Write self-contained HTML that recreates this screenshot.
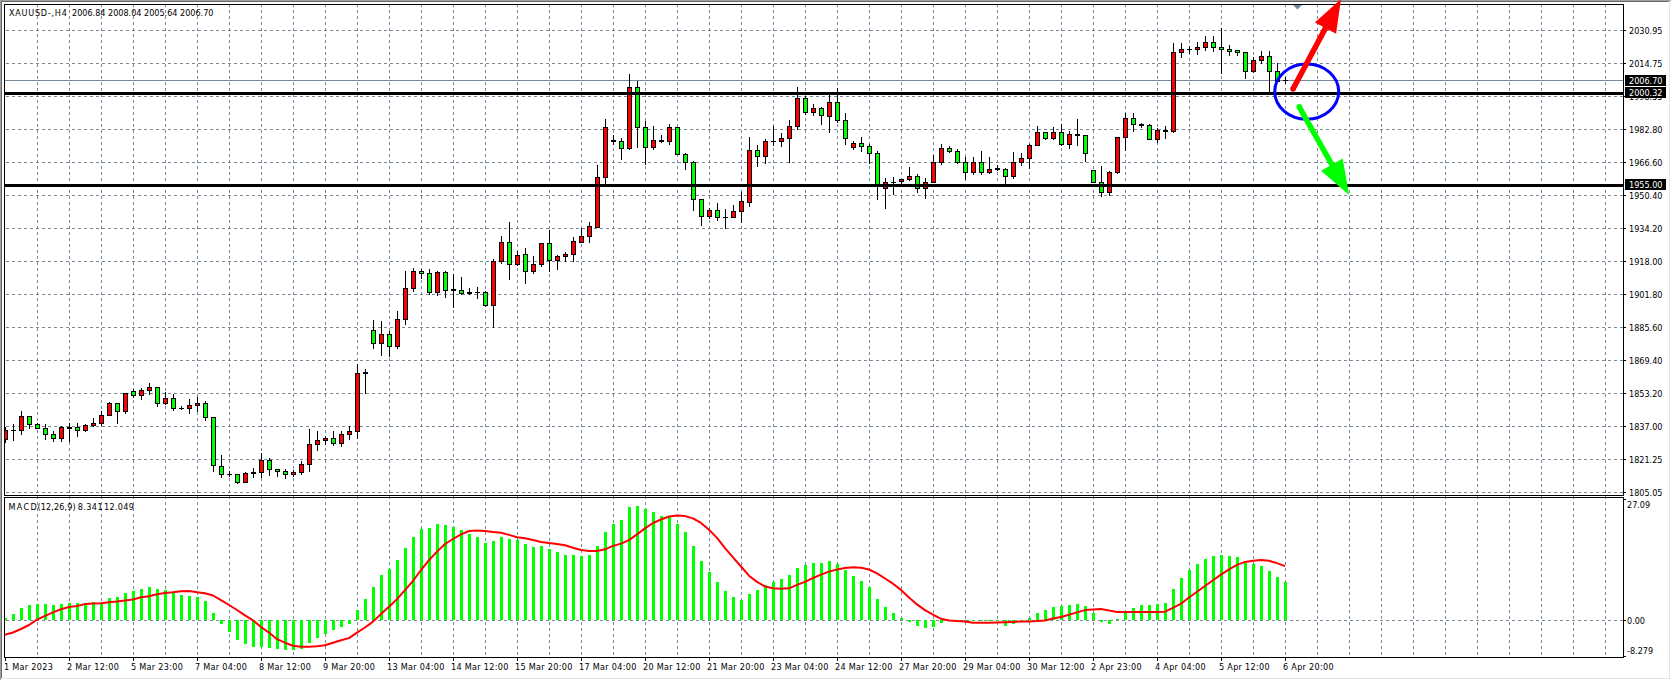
<!DOCTYPE html>
<html><head><meta charset="utf-8"><title>XAUUSD H4</title><style>
html,body{margin:0;padding:0;background:#fff;}
body{width:1671px;height:680px;overflow:hidden;}
svg{display:block;}
text{font-family:"DejaVu Sans Condensed", "DejaVu Sans", "Liberation Sans", sans-serif;font-size:9.0px;fill:#000;}
text.w{fill:#fff;}
</style></head><body>
<svg width="1671" height="680" viewBox="0 0 1671 680" shape-rendering="crispEdges">
<rect x="0" y="0" width="1671" height="1" fill="#a0a0a0"/>
<rect x="0" y="0" width="1" height="680" fill="#a0a0a0"/>
<rect x="1" y="1" width="1669" height="1" fill="#696969"/>
<rect x="1" y="1" width="1" height="678" fill="#696969"/>
<rect x="1" y="678" width="1669" height="1" fill="#e3e3e3"/>
<rect x="1669" y="1" width="1" height="678" fill="#e3e3e3"/>
<defs><clipPath id="cm"><rect x="5" y="5" width="1618" height="490"/></clipPath><clipPath id="cs"><rect x="5" y="498" width="1618" height="159"/></clipPath></defs>
<g clip-path="url(#cm)" stroke="#778899" stroke-width="1" stroke-dasharray="3 3" fill="none">
<line x1="0" y1="30.5" x2="1623" y2="30.5"/>
<line x1="0" y1="63.5" x2="1623" y2="63.5"/>
<line x1="0" y1="96.5" x2="1623" y2="96.5"/>
<line x1="0" y1="129.5" x2="1623" y2="129.5"/>
<line x1="0" y1="162.5" x2="1623" y2="162.5"/>
<line x1="0" y1="195.5" x2="1623" y2="195.5"/>
<line x1="0" y1="228.5" x2="1623" y2="228.5"/>
<line x1="0" y1="261.5" x2="1623" y2="261.5"/>
<line x1="0" y1="294.5" x2="1623" y2="294.5"/>
<line x1="0" y1="327.5" x2="1623" y2="327.5"/>
<line x1="0" y1="360.5" x2="1623" y2="360.5"/>
<line x1="0" y1="393.5" x2="1623" y2="393.5"/>
<line x1="0" y1="426.5" x2="1623" y2="426.5"/>
<line x1="0" y1="459.5" x2="1623" y2="459.5"/>
<line x1="0" y1="492.5" x2="1623" y2="492.5"/>
<line x1="37.5" y1="4" x2="37.5" y2="657"/>
<line x1="69.5" y1="4" x2="69.5" y2="657"/>
<line x1="101.5" y1="4" x2="101.5" y2="657"/>
<line x1="133.5" y1="4" x2="133.5" y2="657"/>
<line x1="165.5" y1="4" x2="165.5" y2="657"/>
<line x1="197.5" y1="4" x2="197.5" y2="657"/>
<line x1="229.5" y1="4" x2="229.5" y2="657"/>
<line x1="261.5" y1="4" x2="261.5" y2="657"/>
<line x1="293.5" y1="4" x2="293.5" y2="657"/>
<line x1="325.5" y1="4" x2="325.5" y2="657"/>
<line x1="357.5" y1="4" x2="357.5" y2="657"/>
<line x1="389.5" y1="4" x2="389.5" y2="657"/>
<line x1="421.5" y1="4" x2="421.5" y2="657"/>
<line x1="453.5" y1="4" x2="453.5" y2="657"/>
<line x1="485.5" y1="4" x2="485.5" y2="657"/>
<line x1="517.5" y1="4" x2="517.5" y2="657"/>
<line x1="549.5" y1="4" x2="549.5" y2="657"/>
<line x1="581.5" y1="4" x2="581.5" y2="657"/>
<line x1="613.5" y1="4" x2="613.5" y2="657"/>
<line x1="645.5" y1="4" x2="645.5" y2="657"/>
<line x1="677.5" y1="4" x2="677.5" y2="657"/>
<line x1="709.5" y1="4" x2="709.5" y2="657"/>
<line x1="741.5" y1="4" x2="741.5" y2="657"/>
<line x1="773.5" y1="4" x2="773.5" y2="657"/>
<line x1="805.5" y1="4" x2="805.5" y2="657"/>
<line x1="837.5" y1="4" x2="837.5" y2="657"/>
<line x1="869.5" y1="4" x2="869.5" y2="657"/>
<line x1="901.5" y1="4" x2="901.5" y2="657"/>
<line x1="933.5" y1="4" x2="933.5" y2="657"/>
<line x1="965.5" y1="4" x2="965.5" y2="657"/>
<line x1="997.5" y1="4" x2="997.5" y2="657"/>
<line x1="1029.5" y1="4" x2="1029.5" y2="657"/>
<line x1="1061.5" y1="4" x2="1061.5" y2="657"/>
<line x1="1093.5" y1="4" x2="1093.5" y2="657"/>
<line x1="1125.5" y1="4" x2="1125.5" y2="657"/>
<line x1="1157.5" y1="4" x2="1157.5" y2="657"/>
<line x1="1189.5" y1="4" x2="1189.5" y2="657"/>
<line x1="1221.5" y1="4" x2="1221.5" y2="657"/>
<line x1="1253.5" y1="4" x2="1253.5" y2="657"/>
<line x1="1285.5" y1="4" x2="1285.5" y2="657"/>
<line x1="1317.5" y1="4" x2="1317.5" y2="657"/>
<line x1="1349.5" y1="4" x2="1349.5" y2="657"/>
<line x1="1381.5" y1="4" x2="1381.5" y2="657"/>
<line x1="1413.5" y1="4" x2="1413.5" y2="657"/>
<line x1="1445.5" y1="4" x2="1445.5" y2="657"/>
<line x1="1477.5" y1="4" x2="1477.5" y2="657"/>
<line x1="1509.5" y1="4" x2="1509.5" y2="657"/>
<line x1="1541.5" y1="4" x2="1541.5" y2="657"/>
<line x1="1573.5" y1="4" x2="1573.5" y2="657"/>
<line x1="1605.5" y1="4" x2="1605.5" y2="657"/>
</g>
<g clip-path="url(#cs)" stroke="#778899" stroke-width="1" stroke-dasharray="3 3" fill="none">
<line x1="0" y1="620.5" x2="1623" y2="620.5"/>
<line x1="37.5" y1="4" x2="37.5" y2="657"/>
<line x1="69.5" y1="4" x2="69.5" y2="657"/>
<line x1="101.5" y1="4" x2="101.5" y2="657"/>
<line x1="133.5" y1="4" x2="133.5" y2="657"/>
<line x1="165.5" y1="4" x2="165.5" y2="657"/>
<line x1="197.5" y1="4" x2="197.5" y2="657"/>
<line x1="229.5" y1="4" x2="229.5" y2="657"/>
<line x1="261.5" y1="4" x2="261.5" y2="657"/>
<line x1="293.5" y1="4" x2="293.5" y2="657"/>
<line x1="325.5" y1="4" x2="325.5" y2="657"/>
<line x1="357.5" y1="4" x2="357.5" y2="657"/>
<line x1="389.5" y1="4" x2="389.5" y2="657"/>
<line x1="421.5" y1="4" x2="421.5" y2="657"/>
<line x1="453.5" y1="4" x2="453.5" y2="657"/>
<line x1="485.5" y1="4" x2="485.5" y2="657"/>
<line x1="517.5" y1="4" x2="517.5" y2="657"/>
<line x1="549.5" y1="4" x2="549.5" y2="657"/>
<line x1="581.5" y1="4" x2="581.5" y2="657"/>
<line x1="613.5" y1="4" x2="613.5" y2="657"/>
<line x1="645.5" y1="4" x2="645.5" y2="657"/>
<line x1="677.5" y1="4" x2="677.5" y2="657"/>
<line x1="709.5" y1="4" x2="709.5" y2="657"/>
<line x1="741.5" y1="4" x2="741.5" y2="657"/>
<line x1="773.5" y1="4" x2="773.5" y2="657"/>
<line x1="805.5" y1="4" x2="805.5" y2="657"/>
<line x1="837.5" y1="4" x2="837.5" y2="657"/>
<line x1="869.5" y1="4" x2="869.5" y2="657"/>
<line x1="901.5" y1="4" x2="901.5" y2="657"/>
<line x1="933.5" y1="4" x2="933.5" y2="657"/>
<line x1="965.5" y1="4" x2="965.5" y2="657"/>
<line x1="997.5" y1="4" x2="997.5" y2="657"/>
<line x1="1029.5" y1="4" x2="1029.5" y2="657"/>
<line x1="1061.5" y1="4" x2="1061.5" y2="657"/>
<line x1="1093.5" y1="4" x2="1093.5" y2="657"/>
<line x1="1125.5" y1="4" x2="1125.5" y2="657"/>
<line x1="1157.5" y1="4" x2="1157.5" y2="657"/>
<line x1="1189.5" y1="4" x2="1189.5" y2="657"/>
<line x1="1221.5" y1="4" x2="1221.5" y2="657"/>
<line x1="1253.5" y1="4" x2="1253.5" y2="657"/>
<line x1="1285.5" y1="4" x2="1285.5" y2="657"/>
<line x1="1317.5" y1="4" x2="1317.5" y2="657"/>
<line x1="1349.5" y1="4" x2="1349.5" y2="657"/>
<line x1="1381.5" y1="4" x2="1381.5" y2="657"/>
<line x1="1413.5" y1="4" x2="1413.5" y2="657"/>
<line x1="1445.5" y1="4" x2="1445.5" y2="657"/>
<line x1="1477.5" y1="4" x2="1477.5" y2="657"/>
<line x1="1509.5" y1="4" x2="1509.5" y2="657"/>
<line x1="1541.5" y1="4" x2="1541.5" y2="657"/>
<line x1="1573.5" y1="4" x2="1573.5" y2="657"/>
<line x1="1605.5" y1="4" x2="1605.5" y2="657"/>
</g>
<rect x="37" y="496" width="1" height="1" fill="#778899"/>
<rect x="69" y="496" width="1" height="1" fill="#778899"/>
<rect x="101" y="496" width="1" height="1" fill="#778899"/>
<rect x="133" y="496" width="1" height="1" fill="#778899"/>
<rect x="165" y="496" width="1" height="1" fill="#778899"/>
<rect x="197" y="496" width="1" height="1" fill="#778899"/>
<rect x="229" y="496" width="1" height="1" fill="#778899"/>
<rect x="261" y="496" width="1" height="1" fill="#778899"/>
<rect x="293" y="496" width="1" height="1" fill="#778899"/>
<rect x="325" y="496" width="1" height="1" fill="#778899"/>
<rect x="357" y="496" width="1" height="1" fill="#778899"/>
<rect x="389" y="496" width="1" height="1" fill="#778899"/>
<rect x="421" y="496" width="1" height="1" fill="#778899"/>
<rect x="453" y="496" width="1" height="1" fill="#778899"/>
<rect x="485" y="496" width="1" height="1" fill="#778899"/>
<rect x="517" y="496" width="1" height="1" fill="#778899"/>
<rect x="549" y="496" width="1" height="1" fill="#778899"/>
<rect x="581" y="496" width="1" height="1" fill="#778899"/>
<rect x="613" y="496" width="1" height="1" fill="#778899"/>
<rect x="645" y="496" width="1" height="1" fill="#778899"/>
<rect x="677" y="496" width="1" height="1" fill="#778899"/>
<rect x="709" y="496" width="1" height="1" fill="#778899"/>
<rect x="741" y="496" width="1" height="1" fill="#778899"/>
<rect x="773" y="496" width="1" height="1" fill="#778899"/>
<rect x="805" y="496" width="1" height="1" fill="#778899"/>
<rect x="837" y="496" width="1" height="1" fill="#778899"/>
<rect x="869" y="496" width="1" height="1" fill="#778899"/>
<rect x="901" y="496" width="1" height="1" fill="#778899"/>
<rect x="933" y="496" width="1" height="1" fill="#778899"/>
<rect x="965" y="496" width="1" height="1" fill="#778899"/>
<rect x="997" y="496" width="1" height="1" fill="#778899"/>
<rect x="1029" y="496" width="1" height="1" fill="#778899"/>
<rect x="1061" y="496" width="1" height="1" fill="#778899"/>
<rect x="1093" y="496" width="1" height="1" fill="#778899"/>
<rect x="1125" y="496" width="1" height="1" fill="#778899"/>
<rect x="1157" y="496" width="1" height="1" fill="#778899"/>
<rect x="1189" y="496" width="1" height="1" fill="#778899"/>
<rect x="1221" y="496" width="1" height="1" fill="#778899"/>
<rect x="1253" y="496" width="1" height="1" fill="#778899"/>
<rect x="1285" y="496" width="1" height="1" fill="#778899"/>
<rect x="1317" y="496" width="1" height="1" fill="#778899"/>
<rect x="1349" y="496" width="1" height="1" fill="#778899"/>
<rect x="1381" y="496" width="1" height="1" fill="#778899"/>
<rect x="1413" y="496" width="1" height="1" fill="#778899"/>
<rect x="1445" y="496" width="1" height="1" fill="#778899"/>
<rect x="1477" y="496" width="1" height="1" fill="#778899"/>
<rect x="1509" y="496" width="1" height="1" fill="#778899"/>
<rect x="1541" y="496" width="1" height="1" fill="#778899"/>
<rect x="1573" y="496" width="1" height="1" fill="#778899"/>
<rect x="1605" y="496" width="1" height="1" fill="#778899"/>
<rect x="5" y="80" width="1618" height="1" fill="#778899"/>
<g clip-path="url(#cm)">
<rect x="5" y="427" width="1" height="16" fill="#000"/>
<rect x="3" y="430" width="5" height="10" fill="#000"/>
<rect x="4" y="431" width="3" height="8" fill="#ff0000"/>
<rect x="13" y="424" width="1" height="17" fill="#000"/>
<rect x="11" y="430" width="5" height="1" fill="#000"/>
<rect x="21" y="411" width="1" height="24" fill="#000"/>
<rect x="19" y="416" width="5" height="15" fill="#000"/>
<rect x="20" y="417" width="3" height="13" fill="#ff0000"/>
<rect x="29" y="416" width="1" height="13" fill="#000"/>
<rect x="27" y="416" width="5" height="9" fill="#000"/>
<rect x="28" y="417" width="3" height="7" fill="#00ff00"/>
<rect x="37" y="423" width="1" height="6" fill="#000"/>
<rect x="35" y="424" width="5" height="5" fill="#000"/>
<rect x="36" y="425" width="3" height="3" fill="#00ff00"/>
<rect x="45" y="424" width="1" height="16" fill="#000"/>
<rect x="43" y="428" width="5" height="7" fill="#000"/>
<rect x="44" y="429" width="3" height="5" fill="#00ff00"/>
<rect x="53" y="431" width="1" height="11" fill="#000"/>
<rect x="51" y="434" width="5" height="5" fill="#000"/>
<rect x="52" y="435" width="3" height="3" fill="#00ff00"/>
<rect x="61" y="426" width="1" height="16" fill="#000"/>
<rect x="59" y="427" width="5" height="12" fill="#000"/>
<rect x="60" y="428" width="3" height="10" fill="#ff0000"/>
<rect x="69" y="423" width="1" height="19" fill="#000"/>
<rect x="67" y="427" width="5" height="2" fill="#000"/>
<rect x="77" y="423" width="1" height="14" fill="#000"/>
<rect x="75" y="427" width="5" height="4" fill="#000"/>
<rect x="76" y="428" width="3" height="2" fill="#00ff00"/>
<rect x="85" y="424" width="1" height="8" fill="#000"/>
<rect x="83" y="425" width="5" height="6" fill="#000"/>
<rect x="84" y="426" width="3" height="4" fill="#ff0000"/>
<rect x="93" y="418" width="1" height="9" fill="#000"/>
<rect x="91" y="423" width="5" height="3" fill="#000"/>
<rect x="92" y="424" width="3" height="1" fill="#ff0000"/>
<rect x="101" y="411" width="1" height="15" fill="#000"/>
<rect x="99" y="415" width="5" height="9" fill="#000"/>
<rect x="100" y="416" width="3" height="7" fill="#ff0000"/>
<rect x="109" y="402" width="1" height="14" fill="#000"/>
<rect x="107" y="403" width="5" height="13" fill="#000"/>
<rect x="108" y="404" width="3" height="11" fill="#ff0000"/>
<rect x="117" y="403" width="1" height="21" fill="#000"/>
<rect x="115" y="403" width="5" height="9" fill="#000"/>
<rect x="116" y="404" width="3" height="7" fill="#00ff00"/>
<rect x="125" y="393" width="1" height="21" fill="#000"/>
<rect x="123" y="393" width="5" height="19" fill="#000"/>
<rect x="124" y="394" width="3" height="17" fill="#ff0000"/>
<rect x="133" y="389" width="1" height="9" fill="#000"/>
<rect x="131" y="391" width="5" height="5" fill="#000"/>
<rect x="132" y="392" width="3" height="3" fill="#00ff00"/>
<rect x="141" y="388" width="1" height="12" fill="#000"/>
<rect x="139" y="390" width="5" height="6" fill="#000"/>
<rect x="140" y="391" width="3" height="4" fill="#ff0000"/>
<rect x="149" y="383" width="1" height="12" fill="#000"/>
<rect x="147" y="387" width="5" height="4" fill="#000"/>
<rect x="148" y="388" width="3" height="2" fill="#ff0000"/>
<rect x="157" y="387" width="1" height="20" fill="#000"/>
<rect x="155" y="387" width="5" height="17" fill="#000"/>
<rect x="156" y="388" width="3" height="15" fill="#00ff00"/>
<rect x="165" y="392" width="1" height="13" fill="#000"/>
<rect x="163" y="398" width="5" height="6" fill="#000"/>
<rect x="164" y="399" width="3" height="4" fill="#ff0000"/>
<rect x="173" y="394" width="1" height="17" fill="#000"/>
<rect x="171" y="398" width="5" height="11" fill="#000"/>
<rect x="172" y="399" width="3" height="9" fill="#00ff00"/>
<rect x="181" y="406" width="1" height="4" fill="#000"/>
<rect x="179" y="408" width="5" height="1" fill="#000"/>
<rect x="189" y="399" width="1" height="15" fill="#000"/>
<rect x="187" y="405" width="5" height="4" fill="#000"/>
<rect x="188" y="406" width="3" height="2" fill="#ff0000"/>
<rect x="197" y="397" width="1" height="15" fill="#000"/>
<rect x="195" y="403" width="5" height="3" fill="#000"/>
<rect x="196" y="404" width="3" height="1" fill="#ff0000"/>
<rect x="205" y="401" width="1" height="20" fill="#000"/>
<rect x="203" y="403" width="5" height="15" fill="#000"/>
<rect x="204" y="404" width="3" height="13" fill="#00ff00"/>
<rect x="213" y="417" width="1" height="55" fill="#000"/>
<rect x="211" y="417" width="5" height="49" fill="#000"/>
<rect x="212" y="418" width="3" height="47" fill="#00ff00"/>
<rect x="221" y="455" width="1" height="23" fill="#000"/>
<rect x="219" y="466" width="5" height="9" fill="#000"/>
<rect x="220" y="467" width="3" height="7" fill="#00ff00"/>
<rect x="229" y="471" width="1" height="6" fill="#000"/>
<rect x="227" y="474" width="5" height="1" fill="#000"/>
<rect x="237" y="474" width="1" height="10" fill="#000"/>
<rect x="235" y="474" width="5" height="9" fill="#000"/>
<rect x="236" y="475" width="3" height="7" fill="#00ff00"/>
<rect x="245" y="472" width="1" height="11" fill="#000"/>
<rect x="243" y="473" width="5" height="10" fill="#000"/>
<rect x="244" y="474" width="3" height="8" fill="#ff0000"/>
<rect x="253" y="468" width="1" height="10" fill="#000"/>
<rect x="251" y="472" width="5" height="2" fill="#000"/>
<rect x="261" y="453" width="1" height="25" fill="#000"/>
<rect x="259" y="460" width="5" height="13" fill="#000"/>
<rect x="260" y="461" width="3" height="11" fill="#ff0000"/>
<rect x="269" y="458" width="1" height="18" fill="#000"/>
<rect x="267" y="460" width="5" height="10" fill="#000"/>
<rect x="268" y="461" width="3" height="8" fill="#00ff00"/>
<rect x="277" y="469" width="1" height="8" fill="#000"/>
<rect x="275" y="469" width="5" height="3" fill="#000"/>
<rect x="276" y="470" width="3" height="1" fill="#00ff00"/>
<rect x="285" y="469" width="1" height="10" fill="#000"/>
<rect x="283" y="471" width="5" height="4" fill="#000"/>
<rect x="284" y="472" width="3" height="2" fill="#00ff00"/>
<rect x="293" y="470" width="1" height="7" fill="#000"/>
<rect x="291" y="472" width="5" height="3" fill="#000"/>
<rect x="292" y="473" width="3" height="1" fill="#ff0000"/>
<rect x="301" y="461" width="1" height="14" fill="#000"/>
<rect x="299" y="464" width="5" height="9" fill="#000"/>
<rect x="300" y="465" width="3" height="7" fill="#ff0000"/>
<rect x="309" y="429" width="1" height="43" fill="#000"/>
<rect x="307" y="444" width="5" height="21" fill="#000"/>
<rect x="308" y="445" width="3" height="19" fill="#ff0000"/>
<rect x="317" y="431" width="1" height="20" fill="#000"/>
<rect x="315" y="440" width="5" height="5" fill="#000"/>
<rect x="316" y="441" width="3" height="3" fill="#ff0000"/>
<rect x="325" y="436" width="1" height="9" fill="#000"/>
<rect x="323" y="438" width="5" height="3" fill="#000"/>
<rect x="324" y="439" width="3" height="1" fill="#ff0000"/>
<rect x="333" y="431" width="1" height="15" fill="#000"/>
<rect x="331" y="438" width="5" height="6" fill="#000"/>
<rect x="332" y="439" width="3" height="4" fill="#00ff00"/>
<rect x="341" y="431" width="1" height="16" fill="#000"/>
<rect x="339" y="434" width="5" height="10" fill="#000"/>
<rect x="340" y="435" width="3" height="8" fill="#ff0000"/>
<rect x="349" y="426" width="1" height="14" fill="#000"/>
<rect x="347" y="431" width="5" height="4" fill="#000"/>
<rect x="348" y="432" width="3" height="2" fill="#ff0000"/>
<rect x="357" y="364" width="1" height="75" fill="#000"/>
<rect x="355" y="373" width="5" height="59" fill="#000"/>
<rect x="356" y="374" width="3" height="57" fill="#ff0000"/>
<rect x="365" y="369" width="1" height="25" fill="#000"/>
<rect x="363" y="372" width="5" height="2" fill="#000"/>
<rect x="373" y="320" width="1" height="29" fill="#000"/>
<rect x="371" y="330" width="5" height="14" fill="#000"/>
<rect x="372" y="331" width="3" height="12" fill="#00ff00"/>
<rect x="381" y="321" width="1" height="35" fill="#000"/>
<rect x="379" y="334" width="5" height="10" fill="#000"/>
<rect x="380" y="335" width="3" height="8" fill="#ff0000"/>
<rect x="389" y="331" width="1" height="26" fill="#000"/>
<rect x="387" y="334" width="5" height="13" fill="#000"/>
<rect x="388" y="335" width="3" height="11" fill="#00ff00"/>
<rect x="397" y="311" width="1" height="38" fill="#000"/>
<rect x="395" y="319" width="5" height="28" fill="#000"/>
<rect x="396" y="320" width="3" height="26" fill="#ff0000"/>
<rect x="405" y="271" width="1" height="54" fill="#000"/>
<rect x="403" y="288" width="5" height="32" fill="#000"/>
<rect x="404" y="289" width="3" height="30" fill="#ff0000"/>
<rect x="413" y="268" width="1" height="24" fill="#000"/>
<rect x="411" y="271" width="5" height="18" fill="#000"/>
<rect x="412" y="272" width="3" height="16" fill="#ff0000"/>
<rect x="421" y="269" width="1" height="10" fill="#000"/>
<rect x="419" y="271" width="5" height="3" fill="#000"/>
<rect x="420" y="272" width="3" height="1" fill="#00ff00"/>
<rect x="429" y="269" width="1" height="26" fill="#000"/>
<rect x="427" y="273" width="5" height="20" fill="#000"/>
<rect x="428" y="274" width="3" height="18" fill="#00ff00"/>
<rect x="437" y="271" width="1" height="25" fill="#000"/>
<rect x="435" y="272" width="5" height="21" fill="#000"/>
<rect x="436" y="273" width="3" height="19" fill="#ff0000"/>
<rect x="445" y="271" width="1" height="27" fill="#000"/>
<rect x="443" y="272" width="5" height="19" fill="#000"/>
<rect x="444" y="273" width="3" height="17" fill="#00ff00"/>
<rect x="453" y="274" width="1" height="34" fill="#000"/>
<rect x="451" y="289" width="5" height="2" fill="#000"/>
<rect x="461" y="277" width="1" height="18" fill="#000"/>
<rect x="459" y="290" width="5" height="4" fill="#000"/>
<rect x="460" y="291" width="3" height="2" fill="#00ff00"/>
<rect x="469" y="288" width="1" height="7" fill="#000"/>
<rect x="467" y="292" width="5" height="2" fill="#000"/>
<rect x="477" y="287" width="1" height="12" fill="#000"/>
<rect x="475" y="292" width="5" height="1" fill="#000"/>
<rect x="485" y="291" width="1" height="16" fill="#000"/>
<rect x="483" y="292" width="5" height="14" fill="#000"/>
<rect x="484" y="293" width="3" height="12" fill="#00ff00"/>
<rect x="493" y="259" width="1" height="69" fill="#000"/>
<rect x="491" y="261" width="5" height="45" fill="#000"/>
<rect x="492" y="262" width="3" height="43" fill="#ff0000"/>
<rect x="501" y="236" width="1" height="28" fill="#000"/>
<rect x="499" y="242" width="5" height="20" fill="#000"/>
<rect x="500" y="243" width="3" height="18" fill="#ff0000"/>
<rect x="509" y="222" width="1" height="58" fill="#000"/>
<rect x="507" y="242" width="5" height="23" fill="#000"/>
<rect x="508" y="243" width="3" height="21" fill="#00ff00"/>
<rect x="517" y="251" width="1" height="15" fill="#000"/>
<rect x="515" y="255" width="5" height="10" fill="#000"/>
<rect x="516" y="256" width="3" height="8" fill="#ff0000"/>
<rect x="525" y="248" width="1" height="36" fill="#000"/>
<rect x="523" y="254" width="5" height="18" fill="#000"/>
<rect x="524" y="255" width="3" height="16" fill="#00ff00"/>
<rect x="533" y="256" width="1" height="18" fill="#000"/>
<rect x="531" y="264" width="5" height="8" fill="#000"/>
<rect x="532" y="265" width="3" height="6" fill="#ff0000"/>
<rect x="541" y="243" width="1" height="24" fill="#000"/>
<rect x="539" y="243" width="5" height="22" fill="#000"/>
<rect x="540" y="244" width="3" height="20" fill="#ff0000"/>
<rect x="549" y="230" width="1" height="42" fill="#000"/>
<rect x="547" y="243" width="5" height="18" fill="#000"/>
<rect x="548" y="244" width="3" height="16" fill="#00ff00"/>
<rect x="557" y="255" width="1" height="15" fill="#000"/>
<rect x="555" y="256" width="5" height="5" fill="#000"/>
<rect x="556" y="257" width="3" height="3" fill="#ff0000"/>
<rect x="565" y="252" width="1" height="10" fill="#000"/>
<rect x="563" y="254" width="5" height="3" fill="#000"/>
<rect x="564" y="255" width="3" height="1" fill="#ff0000"/>
<rect x="573" y="237" width="1" height="25" fill="#000"/>
<rect x="571" y="241" width="5" height="14" fill="#000"/>
<rect x="572" y="242" width="3" height="12" fill="#ff0000"/>
<rect x="581" y="228" width="1" height="15" fill="#000"/>
<rect x="579" y="236" width="5" height="7" fill="#000"/>
<rect x="580" y="237" width="3" height="5" fill="#ff0000"/>
<rect x="589" y="222" width="1" height="21" fill="#000"/>
<rect x="587" y="226" width="5" height="11" fill="#000"/>
<rect x="588" y="227" width="3" height="9" fill="#ff0000"/>
<rect x="597" y="165" width="1" height="63" fill="#000"/>
<rect x="595" y="177" width="5" height="51" fill="#000"/>
<rect x="596" y="178" width="3" height="49" fill="#ff0000"/>
<rect x="605" y="119" width="1" height="66" fill="#000"/>
<rect x="603" y="127" width="5" height="51" fill="#000"/>
<rect x="604" y="128" width="3" height="49" fill="#ff0000"/>
<rect x="613" y="135" width="1" height="10" fill="#000"/>
<rect x="611" y="140" width="5" height="2" fill="#000"/>
<rect x="621" y="138" width="1" height="22" fill="#000"/>
<rect x="619" y="141" width="5" height="8" fill="#000"/>
<rect x="620" y="142" width="3" height="6" fill="#00ff00"/>
<rect x="629" y="74" width="1" height="76" fill="#000"/>
<rect x="627" y="87" width="5" height="62" fill="#000"/>
<rect x="628" y="88" width="3" height="60" fill="#ff0000"/>
<rect x="637" y="81" width="1" height="67" fill="#000"/>
<rect x="635" y="87" width="5" height="41" fill="#000"/>
<rect x="636" y="88" width="3" height="39" fill="#00ff00"/>
<rect x="645" y="121" width="1" height="44" fill="#000"/>
<rect x="643" y="127" width="5" height="21" fill="#000"/>
<rect x="644" y="128" width="3" height="19" fill="#00ff00"/>
<rect x="653" y="126" width="1" height="24" fill="#000"/>
<rect x="651" y="140" width="5" height="8" fill="#000"/>
<rect x="652" y="141" width="3" height="6" fill="#ff0000"/>
<rect x="661" y="135" width="1" height="8" fill="#000"/>
<rect x="659" y="140" width="5" height="2" fill="#000"/>
<rect x="669" y="124" width="1" height="21" fill="#000"/>
<rect x="667" y="127" width="5" height="15" fill="#000"/>
<rect x="668" y="128" width="3" height="13" fill="#ff0000"/>
<rect x="677" y="127" width="1" height="28" fill="#000"/>
<rect x="675" y="127" width="5" height="28" fill="#000"/>
<rect x="676" y="128" width="3" height="26" fill="#00ff00"/>
<rect x="685" y="153" width="1" height="17" fill="#000"/>
<rect x="683" y="154" width="5" height="9" fill="#000"/>
<rect x="684" y="155" width="3" height="7" fill="#00ff00"/>
<rect x="693" y="161" width="1" height="50" fill="#000"/>
<rect x="691" y="162" width="5" height="38" fill="#000"/>
<rect x="692" y="163" width="3" height="36" fill="#00ff00"/>
<rect x="701" y="199" width="1" height="27" fill="#000"/>
<rect x="699" y="199" width="5" height="18" fill="#000"/>
<rect x="700" y="200" width="3" height="16" fill="#00ff00"/>
<rect x="709" y="208" width="1" height="11" fill="#000"/>
<rect x="707" y="210" width="5" height="7" fill="#000"/>
<rect x="708" y="211" width="3" height="5" fill="#ff0000"/>
<rect x="717" y="203" width="1" height="18" fill="#000"/>
<rect x="715" y="210" width="5" height="8" fill="#000"/>
<rect x="716" y="211" width="3" height="6" fill="#00ff00"/>
<rect x="725" y="209" width="1" height="20" fill="#000"/>
<rect x="723" y="217" width="5" height="1" fill="#000"/>
<rect x="733" y="205" width="1" height="13" fill="#000"/>
<rect x="731" y="211" width="5" height="7" fill="#000"/>
<rect x="732" y="212" width="3" height="5" fill="#ff0000"/>
<rect x="741" y="192" width="1" height="31" fill="#000"/>
<rect x="739" y="201" width="5" height="11" fill="#000"/>
<rect x="740" y="202" width="3" height="9" fill="#ff0000"/>
<rect x="749" y="137" width="1" height="70" fill="#000"/>
<rect x="747" y="150" width="5" height="53" fill="#000"/>
<rect x="748" y="151" width="3" height="51" fill="#ff0000"/>
<rect x="757" y="145" width="1" height="22" fill="#000"/>
<rect x="755" y="150" width="5" height="7" fill="#000"/>
<rect x="756" y="151" width="3" height="5" fill="#00ff00"/>
<rect x="765" y="139" width="1" height="25" fill="#000"/>
<rect x="763" y="141" width="5" height="16" fill="#000"/>
<rect x="764" y="142" width="3" height="14" fill="#ff0000"/>
<rect x="773" y="126" width="1" height="20" fill="#000"/>
<rect x="771" y="141" width="5" height="1" fill="#000"/>
<rect x="781" y="133" width="1" height="14" fill="#000"/>
<rect x="779" y="138" width="5" height="4" fill="#000"/>
<rect x="780" y="139" width="3" height="2" fill="#ff0000"/>
<rect x="789" y="120" width="1" height="43" fill="#000"/>
<rect x="787" y="126" width="5" height="13" fill="#000"/>
<rect x="788" y="127" width="3" height="11" fill="#ff0000"/>
<rect x="797" y="87" width="1" height="43" fill="#000"/>
<rect x="795" y="98" width="5" height="29" fill="#000"/>
<rect x="796" y="99" width="3" height="27" fill="#ff0000"/>
<rect x="805" y="96" width="1" height="19" fill="#000"/>
<rect x="803" y="98" width="5" height="15" fill="#000"/>
<rect x="804" y="99" width="3" height="13" fill="#00ff00"/>
<rect x="813" y="104" width="1" height="12" fill="#000"/>
<rect x="811" y="108" width="5" height="5" fill="#000"/>
<rect x="812" y="109" width="3" height="3" fill="#ff0000"/>
<rect x="821" y="107" width="1" height="18" fill="#000"/>
<rect x="819" y="108" width="5" height="8" fill="#000"/>
<rect x="820" y="109" width="3" height="6" fill="#00ff00"/>
<rect x="829" y="94" width="1" height="39" fill="#000"/>
<rect x="827" y="102" width="5" height="15" fill="#000"/>
<rect x="828" y="103" width="3" height="13" fill="#ff0000"/>
<rect x="837" y="88" width="1" height="35" fill="#000"/>
<rect x="835" y="102" width="5" height="19" fill="#000"/>
<rect x="836" y="103" width="3" height="17" fill="#00ff00"/>
<rect x="845" y="113" width="1" height="32" fill="#000"/>
<rect x="843" y="120" width="5" height="19" fill="#000"/>
<rect x="844" y="121" width="3" height="17" fill="#00ff00"/>
<rect x="853" y="141" width="1" height="9" fill="#000"/>
<rect x="851" y="143" width="5" height="5" fill="#000"/>
<rect x="852" y="144" width="3" height="3" fill="#ff0000"/>
<rect x="861" y="137" width="1" height="15" fill="#000"/>
<rect x="859" y="143" width="5" height="4" fill="#000"/>
<rect x="860" y="144" width="3" height="2" fill="#00ff00"/>
<rect x="869" y="144" width="1" height="20" fill="#000"/>
<rect x="867" y="146" width="5" height="8" fill="#000"/>
<rect x="868" y="147" width="3" height="6" fill="#00ff00"/>
<rect x="877" y="151" width="1" height="49" fill="#000"/>
<rect x="875" y="153" width="5" height="32" fill="#000"/>
<rect x="876" y="154" width="3" height="30" fill="#00ff00"/>
<rect x="885" y="178" width="1" height="31" fill="#000"/>
<rect x="883" y="182" width="5" height="7" fill="#000"/>
<rect x="884" y="183" width="3" height="5" fill="#ff0000"/>
<rect x="893" y="177" width="1" height="18" fill="#000"/>
<rect x="891" y="182" width="5" height="1" fill="#000"/>
<rect x="901" y="179" width="1" height="6" fill="#000"/>
<rect x="899" y="179" width="5" height="3" fill="#000"/>
<rect x="900" y="180" width="3" height="1" fill="#ff0000"/>
<rect x="909" y="167" width="1" height="14" fill="#000"/>
<rect x="907" y="176" width="5" height="4" fill="#000"/>
<rect x="908" y="177" width="3" height="2" fill="#ff0000"/>
<rect x="917" y="174" width="1" height="19" fill="#000"/>
<rect x="915" y="176" width="5" height="13" fill="#000"/>
<rect x="916" y="177" width="3" height="11" fill="#00ff00"/>
<rect x="925" y="178" width="1" height="21" fill="#000"/>
<rect x="923" y="182" width="5" height="7" fill="#000"/>
<rect x="924" y="183" width="3" height="5" fill="#ff0000"/>
<rect x="933" y="155" width="1" height="28" fill="#000"/>
<rect x="931" y="162" width="5" height="21" fill="#000"/>
<rect x="932" y="163" width="3" height="19" fill="#ff0000"/>
<rect x="941" y="144" width="1" height="21" fill="#000"/>
<rect x="939" y="148" width="5" height="15" fill="#000"/>
<rect x="940" y="149" width="3" height="13" fill="#ff0000"/>
<rect x="949" y="146" width="1" height="7" fill="#000"/>
<rect x="947" y="148" width="5" height="4" fill="#000"/>
<rect x="948" y="149" width="3" height="2" fill="#00ff00"/>
<rect x="957" y="149" width="1" height="15" fill="#000"/>
<rect x="955" y="151" width="5" height="12" fill="#000"/>
<rect x="956" y="152" width="3" height="10" fill="#00ff00"/>
<rect x="965" y="157" width="1" height="23" fill="#000"/>
<rect x="963" y="162" width="5" height="11" fill="#000"/>
<rect x="964" y="163" width="3" height="9" fill="#00ff00"/>
<rect x="973" y="157" width="1" height="18" fill="#000"/>
<rect x="971" y="162" width="5" height="11" fill="#000"/>
<rect x="972" y="163" width="3" height="9" fill="#ff0000"/>
<rect x="981" y="151" width="1" height="24" fill="#000"/>
<rect x="979" y="162" width="5" height="11" fill="#000"/>
<rect x="980" y="163" width="3" height="9" fill="#00ff00"/>
<rect x="989" y="157" width="1" height="17" fill="#000"/>
<rect x="987" y="169" width="5" height="4" fill="#000"/>
<rect x="988" y="170" width="3" height="2" fill="#ff0000"/>
<rect x="997" y="165" width="1" height="6" fill="#000"/>
<rect x="995" y="168" width="5" height="2" fill="#000"/>
<rect x="1005" y="168" width="1" height="17" fill="#000"/>
<rect x="1003" y="169" width="5" height="8" fill="#000"/>
<rect x="1004" y="170" width="3" height="6" fill="#00ff00"/>
<rect x="1013" y="152" width="1" height="27" fill="#000"/>
<rect x="1011" y="162" width="5" height="15" fill="#000"/>
<rect x="1012" y="163" width="3" height="13" fill="#ff0000"/>
<rect x="1021" y="153" width="1" height="13" fill="#000"/>
<rect x="1019" y="158" width="5" height="5" fill="#000"/>
<rect x="1020" y="159" width="3" height="3" fill="#ff0000"/>
<rect x="1029" y="144" width="1" height="25" fill="#000"/>
<rect x="1027" y="145" width="5" height="14" fill="#000"/>
<rect x="1028" y="146" width="3" height="12" fill="#ff0000"/>
<rect x="1037" y="126" width="1" height="20" fill="#000"/>
<rect x="1035" y="132" width="5" height="14" fill="#000"/>
<rect x="1036" y="133" width="3" height="12" fill="#ff0000"/>
<rect x="1045" y="132" width="1" height="8" fill="#000"/>
<rect x="1043" y="132" width="5" height="7" fill="#000"/>
<rect x="1044" y="133" width="3" height="5" fill="#00ff00"/>
<rect x="1053" y="127" width="1" height="13" fill="#000"/>
<rect x="1051" y="132" width="5" height="7" fill="#000"/>
<rect x="1052" y="133" width="3" height="5" fill="#ff0000"/>
<rect x="1061" y="124" width="1" height="22" fill="#000"/>
<rect x="1059" y="132" width="5" height="13" fill="#000"/>
<rect x="1060" y="133" width="3" height="11" fill="#00ff00"/>
<rect x="1069" y="131" width="1" height="18" fill="#000"/>
<rect x="1067" y="134" width="5" height="11" fill="#000"/>
<rect x="1068" y="135" width="3" height="9" fill="#ff0000"/>
<rect x="1077" y="119" width="1" height="27" fill="#000"/>
<rect x="1075" y="134" width="5" height="2" fill="#000"/>
<rect x="1085" y="135" width="1" height="27" fill="#000"/>
<rect x="1083" y="135" width="5" height="19" fill="#000"/>
<rect x="1084" y="136" width="3" height="17" fill="#00ff00"/>
<rect x="1093" y="170" width="1" height="13" fill="#000"/>
<rect x="1091" y="170" width="5" height="13" fill="#000"/>
<rect x="1092" y="171" width="3" height="11" fill="#00ff00"/>
<rect x="1101" y="166" width="1" height="31" fill="#000"/>
<rect x="1099" y="182" width="5" height="11" fill="#000"/>
<rect x="1100" y="183" width="3" height="9" fill="#00ff00"/>
<rect x="1109" y="171" width="1" height="25" fill="#000"/>
<rect x="1107" y="172" width="5" height="21" fill="#000"/>
<rect x="1108" y="173" width="3" height="19" fill="#ff0000"/>
<rect x="1117" y="137" width="1" height="37" fill="#000"/>
<rect x="1115" y="137" width="5" height="36" fill="#000"/>
<rect x="1116" y="138" width="3" height="34" fill="#ff0000"/>
<rect x="1125" y="113" width="1" height="38" fill="#000"/>
<rect x="1123" y="118" width="5" height="20" fill="#000"/>
<rect x="1124" y="119" width="3" height="18" fill="#ff0000"/>
<rect x="1133" y="113" width="1" height="19" fill="#000"/>
<rect x="1131" y="118" width="5" height="7" fill="#000"/>
<rect x="1132" y="119" width="3" height="5" fill="#00ff00"/>
<rect x="1141" y="123" width="1" height="5" fill="#000"/>
<rect x="1139" y="124" width="5" height="2" fill="#000"/>
<rect x="1149" y="124" width="1" height="16" fill="#000"/>
<rect x="1147" y="125" width="5" height="15" fill="#000"/>
<rect x="1148" y="126" width="3" height="13" fill="#00ff00"/>
<rect x="1157" y="128" width="1" height="15" fill="#000"/>
<rect x="1155" y="130" width="5" height="10" fill="#000"/>
<rect x="1156" y="131" width="3" height="8" fill="#ff0000"/>
<rect x="1165" y="126" width="1" height="13" fill="#000"/>
<rect x="1163" y="130" width="5" height="2" fill="#000"/>
<rect x="1173" y="43" width="1" height="90" fill="#000"/>
<rect x="1171" y="52" width="5" height="80" fill="#000"/>
<rect x="1172" y="53" width="3" height="78" fill="#ff0000"/>
<rect x="1181" y="43" width="1" height="15" fill="#000"/>
<rect x="1179" y="49" width="5" height="4" fill="#000"/>
<rect x="1180" y="50" width="3" height="2" fill="#ff0000"/>
<rect x="1189" y="46" width="1" height="8" fill="#000"/>
<rect x="1187" y="49" width="5" height="1" fill="#000"/>
<rect x="1197" y="42" width="1" height="13" fill="#000"/>
<rect x="1195" y="47" width="5" height="3" fill="#000"/>
<rect x="1196" y="48" width="3" height="1" fill="#ff0000"/>
<rect x="1205" y="36" width="1" height="15" fill="#000"/>
<rect x="1203" y="42" width="5" height="6" fill="#000"/>
<rect x="1204" y="43" width="3" height="4" fill="#ff0000"/>
<rect x="1213" y="36" width="1" height="16" fill="#000"/>
<rect x="1211" y="42" width="5" height="6" fill="#000"/>
<rect x="1212" y="43" width="3" height="4" fill="#00ff00"/>
<rect x="1221" y="28" width="1" height="46" fill="#000"/>
<rect x="1219" y="47" width="5" height="3" fill="#000"/>
<rect x="1220" y="48" width="3" height="1" fill="#00ff00"/>
<rect x="1229" y="45" width="1" height="11" fill="#000"/>
<rect x="1227" y="49" width="5" height="3" fill="#000"/>
<rect x="1228" y="50" width="3" height="1" fill="#00ff00"/>
<rect x="1237" y="50" width="1" height="6" fill="#000"/>
<rect x="1235" y="50" width="5" height="3" fill="#000"/>
<rect x="1236" y="51" width="3" height="1" fill="#00ff00"/>
<rect x="1245" y="52" width="1" height="27" fill="#000"/>
<rect x="1243" y="52" width="5" height="20" fill="#000"/>
<rect x="1244" y="53" width="3" height="18" fill="#00ff00"/>
<rect x="1253" y="57" width="1" height="16" fill="#000"/>
<rect x="1251" y="60" width="5" height="12" fill="#000"/>
<rect x="1252" y="61" width="3" height="10" fill="#ff0000"/>
<rect x="1261" y="51" width="1" height="13" fill="#000"/>
<rect x="1259" y="56" width="5" height="5" fill="#000"/>
<rect x="1260" y="57" width="3" height="3" fill="#ff0000"/>
<rect x="1269" y="51" width="1" height="42" fill="#000"/>
<rect x="1267" y="56" width="5" height="16" fill="#000"/>
<rect x="1268" y="57" width="3" height="14" fill="#00ff00"/>
<rect x="1277" y="63" width="1" height="19" fill="#000"/>
<rect x="1275" y="71" width="5" height="11" fill="#000"/>
<rect x="1276" y="72" width="3" height="9" fill="#00ff00"/>
<rect x="1285" y="77" width="1" height="7" fill="#000"/>
<rect x="1283" y="80" width="5" height="1" fill="#000"/>
</g>
<rect x="5" y="92" width="1618" height="3" fill="#000"/>
<rect x="5" y="184" width="1618" height="3" fill="#000"/>
<g clip-path="url(#cs)">
<rect x="4" y="618" width="3" height="2" fill="#00ff00"/>
<rect x="12" y="614" width="3" height="6" fill="#00ff00"/>
<rect x="20" y="608" width="3" height="12" fill="#00ff00"/>
<rect x="28" y="605" width="3" height="15" fill="#00ff00"/>
<rect x="36" y="604" width="3" height="16" fill="#00ff00"/>
<rect x="44" y="604" width="3" height="16" fill="#00ff00"/>
<rect x="52" y="605" width="3" height="15" fill="#00ff00"/>
<rect x="60" y="604" width="3" height="16" fill="#00ff00"/>
<rect x="68" y="603" width="3" height="17" fill="#00ff00"/>
<rect x="76" y="603" width="3" height="17" fill="#00ff00"/>
<rect x="84" y="603" width="3" height="17" fill="#00ff00"/>
<rect x="92" y="602" width="3" height="18" fill="#00ff00"/>
<rect x="100" y="603" width="3" height="17" fill="#00ff00"/>
<rect x="108" y="598" width="3" height="22" fill="#00ff00"/>
<rect x="116" y="597" width="3" height="23" fill="#00ff00"/>
<rect x="124" y="593" width="3" height="27" fill="#00ff00"/>
<rect x="132" y="591" width="3" height="29" fill="#00ff00"/>
<rect x="140" y="589" width="3" height="31" fill="#00ff00"/>
<rect x="148" y="587" width="3" height="33" fill="#00ff00"/>
<rect x="156" y="589" width="3" height="31" fill="#00ff00"/>
<rect x="164" y="590" width="3" height="30" fill="#00ff00"/>
<rect x="172" y="593" width="3" height="27" fill="#00ff00"/>
<rect x="180" y="595" width="3" height="25" fill="#00ff00"/>
<rect x="188" y="596" width="3" height="24" fill="#00ff00"/>
<rect x="196" y="597" width="3" height="23" fill="#00ff00"/>
<rect x="204" y="601" width="3" height="19" fill="#00ff00"/>
<rect x="212" y="613" width="3" height="7" fill="#00ff00"/>
<rect x="220" y="620" width="3" height="4" fill="#00ff00"/>
<rect x="228" y="620" width="3" height="12" fill="#00ff00"/>
<rect x="236" y="620" width="3" height="20" fill="#00ff00"/>
<rect x="244" y="620" width="3" height="24" fill="#00ff00"/>
<rect x="252" y="620" width="3" height="27" fill="#00ff00"/>
<rect x="260" y="620" width="3" height="27" fill="#00ff00"/>
<rect x="268" y="620" width="3" height="28" fill="#00ff00"/>
<rect x="276" y="620" width="3" height="29" fill="#00ff00"/>
<rect x="284" y="620" width="3" height="30" fill="#00ff00"/>
<rect x="292" y="620" width="3" height="30" fill="#00ff00"/>
<rect x="300" y="620" width="3" height="29" fill="#00ff00"/>
<rect x="308" y="620" width="3" height="23" fill="#00ff00"/>
<rect x="316" y="620" width="3" height="18" fill="#00ff00"/>
<rect x="324" y="620" width="3" height="14" fill="#00ff00"/>
<rect x="332" y="620" width="3" height="10" fill="#00ff00"/>
<rect x="340" y="620" width="3" height="7" fill="#00ff00"/>
<rect x="348" y="620" width="3" height="4" fill="#00ff00"/>
<rect x="356" y="610" width="3" height="10" fill="#00ff00"/>
<rect x="364" y="599" width="3" height="21" fill="#00ff00"/>
<rect x="372" y="587" width="3" height="33" fill="#00ff00"/>
<rect x="380" y="575" width="3" height="45" fill="#00ff00"/>
<rect x="388" y="569" width="3" height="51" fill="#00ff00"/>
<rect x="396" y="560" width="3" height="60" fill="#00ff00"/>
<rect x="404" y="548" width="3" height="72" fill="#00ff00"/>
<rect x="412" y="537" width="3" height="83" fill="#00ff00"/>
<rect x="420" y="529" width="3" height="91" fill="#00ff00"/>
<rect x="428" y="528" width="3" height="92" fill="#00ff00"/>
<rect x="436" y="524" width="3" height="96" fill="#00ff00"/>
<rect x="444" y="525" width="3" height="95" fill="#00ff00"/>
<rect x="452" y="527" width="3" height="93" fill="#00ff00"/>
<rect x="460" y="530" width="3" height="90" fill="#00ff00"/>
<rect x="468" y="534" width="3" height="86" fill="#00ff00"/>
<rect x="476" y="537" width="3" height="83" fill="#00ff00"/>
<rect x="484" y="543" width="3" height="77" fill="#00ff00"/>
<rect x="492" y="541" width="3" height="79" fill="#00ff00"/>
<rect x="500" y="537" width="3" height="83" fill="#00ff00"/>
<rect x="508" y="539" width="3" height="81" fill="#00ff00"/>
<rect x="516" y="540" width="3" height="80" fill="#00ff00"/>
<rect x="524" y="544" width="3" height="76" fill="#00ff00"/>
<rect x="532" y="547" width="3" height="73" fill="#00ff00"/>
<rect x="540" y="546" width="3" height="74" fill="#00ff00"/>
<rect x="548" y="549" width="3" height="71" fill="#00ff00"/>
<rect x="556" y="552" width="3" height="68" fill="#00ff00"/>
<rect x="564" y="555" width="3" height="65" fill="#00ff00"/>
<rect x="572" y="555" width="3" height="65" fill="#00ff00"/>
<rect x="580" y="556" width="3" height="64" fill="#00ff00"/>
<rect x="588" y="555" width="3" height="65" fill="#00ff00"/>
<rect x="596" y="546" width="3" height="74" fill="#00ff00"/>
<rect x="604" y="532" width="3" height="88" fill="#00ff00"/>
<rect x="612" y="524" width="3" height="96" fill="#00ff00"/>
<rect x="620" y="520" width="3" height="100" fill="#00ff00"/>
<rect x="628" y="507" width="3" height="113" fill="#00ff00"/>
<rect x="636" y="506" width="3" height="114" fill="#00ff00"/>
<rect x="644" y="509" width="3" height="111" fill="#00ff00"/>
<rect x="652" y="512" width="3" height="108" fill="#00ff00"/>
<rect x="660" y="516" width="3" height="104" fill="#00ff00"/>
<rect x="668" y="517" width="3" height="103" fill="#00ff00"/>
<rect x="676" y="524" width="3" height="96" fill="#00ff00"/>
<rect x="684" y="532" width="3" height="88" fill="#00ff00"/>
<rect x="692" y="546" width="3" height="74" fill="#00ff00"/>
<rect x="700" y="561" width="3" height="59" fill="#00ff00"/>
<rect x="708" y="572" width="3" height="48" fill="#00ff00"/>
<rect x="716" y="582" width="3" height="38" fill="#00ff00"/>
<rect x="724" y="591" width="3" height="29" fill="#00ff00"/>
<rect x="732" y="597" width="3" height="23" fill="#00ff00"/>
<rect x="740" y="600" width="3" height="20" fill="#00ff00"/>
<rect x="748" y="594" width="3" height="26" fill="#00ff00"/>
<rect x="756" y="590" width="3" height="30" fill="#00ff00"/>
<rect x="764" y="585" width="3" height="35" fill="#00ff00"/>
<rect x="772" y="582" width="3" height="38" fill="#00ff00"/>
<rect x="780" y="579" width="3" height="41" fill="#00ff00"/>
<rect x="788" y="575" width="3" height="45" fill="#00ff00"/>
<rect x="796" y="568" width="3" height="52" fill="#00ff00"/>
<rect x="804" y="565" width="3" height="55" fill="#00ff00"/>
<rect x="812" y="563" width="3" height="57" fill="#00ff00"/>
<rect x="820" y="563" width="3" height="57" fill="#00ff00"/>
<rect x="828" y="561" width="3" height="59" fill="#00ff00"/>
<rect x="836" y="564" width="3" height="56" fill="#00ff00"/>
<rect x="844" y="570" width="3" height="50" fill="#00ff00"/>
<rect x="852" y="576" width="3" height="44" fill="#00ff00"/>
<rect x="860" y="581" width="3" height="39" fill="#00ff00"/>
<rect x="868" y="587" width="3" height="33" fill="#00ff00"/>
<rect x="876" y="599" width="3" height="21" fill="#00ff00"/>
<rect x="884" y="607" width="3" height="13" fill="#00ff00"/>
<rect x="892" y="613" width="3" height="7" fill="#00ff00"/>
<rect x="900" y="618" width="3" height="2" fill="#00ff00"/>
<rect x="908" y="620" width="3" height="2" fill="#00ff00"/>
<rect x="916" y="620" width="3" height="6" fill="#00ff00"/>
<rect x="924" y="620" width="3" height="8" fill="#00ff00"/>
<rect x="932" y="620" width="3" height="7" fill="#00ff00"/>
<rect x="940" y="620" width="3" height="3" fill="#00ff00"/>
<rect x="948" y="620" width="3" height="1" fill="#00ff00"/>
<rect x="956" y="620" width="3" height="1" fill="#00ff00"/>
<rect x="964" y="620" width="3" height="1" fill="#00ff00"/>
<rect x="972" y="620" width="3" height="1" fill="#00ff00"/>
<rect x="980" y="620" width="3" height="1" fill="#00ff00"/>
<rect x="988" y="620" width="3" height="1" fill="#00ff00"/>
<rect x="996" y="620" width="3" height="1" fill="#00ff00"/>
<rect x="1004" y="620" width="3" height="6" fill="#00ff00"/>
<rect x="1012" y="620" width="3" height="4" fill="#00ff00"/>
<rect x="1020" y="620" width="3" height="1" fill="#00ff00"/>
<rect x="1028" y="618" width="3" height="2" fill="#00ff00"/>
<rect x="1036" y="613" width="3" height="7" fill="#00ff00"/>
<rect x="1044" y="610" width="3" height="10" fill="#00ff00"/>
<rect x="1052" y="607" width="3" height="13" fill="#00ff00"/>
<rect x="1060" y="606" width="3" height="14" fill="#00ff00"/>
<rect x="1068" y="605" width="3" height="15" fill="#00ff00"/>
<rect x="1076" y="604" width="3" height="16" fill="#00ff00"/>
<rect x="1084" y="606" width="3" height="14" fill="#00ff00"/>
<rect x="1092" y="613" width="3" height="7" fill="#00ff00"/>
<rect x="1100" y="620" width="3" height="2" fill="#00ff00"/>
<rect x="1108" y="620" width="3" height="4" fill="#00ff00"/>
<rect x="1116" y="619" width="3" height="1" fill="#00ff00"/>
<rect x="1124" y="613" width="3" height="7" fill="#00ff00"/>
<rect x="1132" y="608" width="3" height="12" fill="#00ff00"/>
<rect x="1140" y="605" width="3" height="15" fill="#00ff00"/>
<rect x="1148" y="605" width="3" height="15" fill="#00ff00"/>
<rect x="1156" y="604" width="3" height="16" fill="#00ff00"/>
<rect x="1164" y="603" width="3" height="17" fill="#00ff00"/>
<rect x="1172" y="589" width="3" height="31" fill="#00ff00"/>
<rect x="1180" y="578" width="3" height="42" fill="#00ff00"/>
<rect x="1188" y="570" width="3" height="50" fill="#00ff00"/>
<rect x="1196" y="564" width="3" height="56" fill="#00ff00"/>
<rect x="1204" y="559" width="3" height="61" fill="#00ff00"/>
<rect x="1212" y="556" width="3" height="64" fill="#00ff00"/>
<rect x="1220" y="555" width="3" height="65" fill="#00ff00"/>
<rect x="1228" y="556" width="3" height="64" fill="#00ff00"/>
<rect x="1236" y="557" width="3" height="63" fill="#00ff00"/>
<rect x="1244" y="563" width="3" height="57" fill="#00ff00"/>
<rect x="1252" y="564" width="3" height="56" fill="#00ff00"/>
<rect x="1260" y="566" width="3" height="54" fill="#00ff00"/>
<rect x="1268" y="571" width="3" height="49" fill="#00ff00"/>
<rect x="1276" y="577" width="3" height="43" fill="#00ff00"/>
<rect x="1284" y="582" width="3" height="38" fill="#00ff00"/>
<polyline points="-3,636.7 5,634.7 13,632.5 21,629.0 29,625.0 37,619.6 45,615.8 53,612.4 61,609.2 69,607.0 77,606.0 85,604.1 93,603.6 101,603.2 109,602.2 117,601.6 125,600.5 133,599.5 141,597.3 149,596.3 157,594.2 165,592.9 173,592.2 181,591.3 189,591.1 197,592.2 205,593.2 213,595.5 221,600.2 229,605.0 237,610.0 245,615.3 253,620.3 261,627.0 269,632.6 277,639.2 285,642.7 293,645.8 301,646.8 309,646.8 317,646.3 325,645.3 333,642.7 341,640.2 349,638.1 357,632.6 365,627.5 373,621.6 381,614.0 389,606.7 397,599.1 405,590.2 413,580.8 421,570.0 429,560.1 437,551.6 445,544.0 453,539.0 461,534.4 469,531.0 477,530.5 485,531.0 493,532.1 501,532.8 509,534.9 517,537.2 525,538.3 533,540.1 541,542.0 549,543.1 557,544.0 565,545.2 573,547.7 581,550.0 589,550.9 597,550.9 605,549.3 613,545.9 621,543.6 629,540.1 637,534.4 645,528.4 653,523.0 661,519.5 669,516.5 677,515.6 685,516.1 693,518.4 701,522.9 709,529.8 717,537.9 725,548.2 733,557.4 741,566.5 749,575.7 757,581.9 765,586.5 773,588.3 781,588.8 789,588.3 797,584.9 805,581.9 813,578.0 821,574.6 829,571.6 837,569.5 845,568.1 853,567.2 861,567.7 869,569.5 877,573.4 885,578.5 893,583.7 901,589.9 909,597.5 917,604.4 925,610.1 933,614.7 941,618.8 949,620.4 957,621.1 965,621.6 973,622.7 981,622.7 989,622.7 997,622.5 1005,622.3 1013,622.0 1021,621.6 1029,621.4 1037,621.1 1045,620.4 1053,618.6 1061,617.0 1069,614.7 1077,612.4 1085,610.1 1093,609.4 1101,609.0 1109,610.6 1117,612.0 1125,612.0 1133,612.0 1141,612.0 1149,612.0 1157,612.0 1165,611.7 1173,607.8 1181,603.7 1189,597.5 1197,591.8 1205,586.0 1213,580.3 1221,574.6 1229,569.3 1237,564.9 1245,561.9 1253,560.8 1261,560.1 1269,560.8 1277,563.1 1285,566.1" fill="none" stroke="#ff0000" stroke-width="2" stroke-linejoin="round" shape-rendering="auto"/>
</g>
<rect x="4.5" y="4.5" width="1619" height="491" fill="none" stroke="#000" stroke-width="1"/>
<rect x="4.5" y="497.5" width="1619" height="160" fill="none" stroke="#000" stroke-width="1"/>
<polygon points="1293,5 1302,5 1297.5,9.5" fill="#778899" shape-rendering="auto"/>
<ellipse cx="1306.7" cy="91.6" rx="32" ry="27.6" fill="none" stroke="#0000ff" stroke-width="3" shape-rendering="auto"/>
<polygon points="1295.4,90.3 1327.9,29.4 1336.1,33.8 1341.0,-1.0 1314.9,22.5 1323.0,26.8 1290.6,87.7" fill="#ff0000" shape-rendering="auto"/><circle cx="1293" cy="89" r="2.75" fill="#ff0000" shape-rendering="auto"/>
<polygon points="1296.8,108.2 1329.5,165.9 1321.0,170.7 1349.1,195.0 1342.7,158.4 1334.3,163.2 1301.6,105.4" fill="#00ff00" shape-rendering="auto"/><circle cx="1299.2" cy="106.8" r="2.75" fill="#00ff00" shape-rendering="auto"/>
<rect x="1624" y="30" width="2" height="1" fill="#000"/>
<rect x="1624" y="63" width="2" height="1" fill="#000"/>
<rect x="1624" y="96" width="2" height="1" fill="#000"/>
<rect x="1624" y="129" width="2" height="1" fill="#000"/>
<rect x="1624" y="162" width="2" height="1" fill="#000"/>
<rect x="1624" y="195" width="2" height="1" fill="#000"/>
<rect x="1624" y="228" width="2" height="1" fill="#000"/>
<rect x="1624" y="261" width="2" height="1" fill="#000"/>
<rect x="1624" y="294" width="2" height="1" fill="#000"/>
<rect x="1624" y="327" width="2" height="1" fill="#000"/>
<rect x="1624" y="360" width="2" height="1" fill="#000"/>
<rect x="1624" y="393" width="2" height="1" fill="#000"/>
<rect x="1624" y="426" width="2" height="1" fill="#000"/>
<rect x="1624" y="459" width="2" height="1" fill="#000"/>
<rect x="1624" y="492" width="2" height="1" fill="#000"/>
<rect x="1624" y="499" width="2" height="1" fill="#000"/>
<rect x="1624" y="620" width="2" height="1" fill="#000"/>
<rect x="1624" y="656" width="2" height="1" fill="#000"/>
<rect x="5" y="658" width="1" height="3" fill="#000"/>
<rect x="69" y="658" width="1" height="3" fill="#000"/>
<rect x="133" y="658" width="1" height="3" fill="#000"/>
<rect x="197" y="658" width="1" height="3" fill="#000"/>
<rect x="261" y="658" width="1" height="3" fill="#000"/>
<rect x="325" y="658" width="1" height="3" fill="#000"/>
<rect x="389" y="658" width="1" height="3" fill="#000"/>
<rect x="453" y="658" width="1" height="3" fill="#000"/>
<rect x="517" y="658" width="1" height="3" fill="#000"/>
<rect x="581" y="658" width="1" height="3" fill="#000"/>
<rect x="645" y="658" width="1" height="3" fill="#000"/>
<rect x="709" y="658" width="1" height="3" fill="#000"/>
<rect x="773" y="658" width="1" height="3" fill="#000"/>
<rect x="837" y="658" width="1" height="3" fill="#000"/>
<rect x="901" y="658" width="1" height="3" fill="#000"/>
<rect x="965" y="658" width="1" height="3" fill="#000"/>
<rect x="1029" y="658" width="1" height="3" fill="#000"/>
<rect x="1093" y="658" width="1" height="3" fill="#000"/>
<rect x="1157" y="658" width="1" height="3" fill="#000"/>
<rect x="1221" y="658" width="1" height="3" fill="#000"/>
<rect x="1285" y="658" width="1" height="3" fill="#000"/>
<g>
<text x="1629" y="34">2030.95</text>
<text x="1629" y="67">2014.75</text>
<text x="1629" y="100">1998.55</text>
<text x="1629" y="133">1982.80</text>
<text x="1629" y="166">1966.60</text>
<text x="1629" y="199">1950.40</text>
<text x="1629" y="232">1934.20</text>
<text x="1629" y="265">1918.00</text>
<text x="1629" y="298">1901.80</text>
<text x="1629" y="331">1885.60</text>
<text x="1629" y="364">1869.40</text>
<text x="1629" y="397">1853.20</text>
<text x="1629" y="430">1837.00</text>
<text x="1629" y="463">1821.25</text>
<text x="1629" y="496">1805.05</text>
<rect x="1625" y="75" width="41" height="11" fill="#000"/>
<text x="1629" y="84" class="w">2006.70</text>
<rect x="1625" y="87" width="41" height="11" fill="#000"/>
<text x="1629" y="96" class="w">2000.32</text>
<rect x="1625" y="179" width="41" height="11" fill="#000"/>
<text x="1629" y="188" class="w">1955.00</text>
<text x="1627" y="508">27.09</text>
<text x="1627" y="624">0.00</text>
<text x="1627" y="654">-8.279</text>
<text x="4" y="670" style="letter-spacing:0.3px">1 Mar 2023</text>
<text x="67" y="670" style="letter-spacing:0.3px">2 Mar 12:00</text>
<text x="131" y="670" style="letter-spacing:0.3px">5 Mar 23:00</text>
<text x="195" y="670" style="letter-spacing:0.3px">7 Mar 04:00</text>
<text x="259" y="670" style="letter-spacing:0.3px">8 Mar 12:00</text>
<text x="323" y="670" style="letter-spacing:0.3px">9 Mar 20:00</text>
<text x="387" y="670" style="letter-spacing:0.3px">13 Mar 04:00</text>
<text x="451" y="670" style="letter-spacing:0.3px">14 Mar 12:00</text>
<text x="515" y="670" style="letter-spacing:0.3px">15 Mar 20:00</text>
<text x="579" y="670" style="letter-spacing:0.3px">17 Mar 04:00</text>
<text x="643" y="670" style="letter-spacing:0.3px">20 Mar 12:00</text>
<text x="707" y="670" style="letter-spacing:0.3px">21 Mar 20:00</text>
<text x="771" y="670" style="letter-spacing:0.3px">23 Mar 04:00</text>
<text x="835" y="670" style="letter-spacing:0.3px">24 Mar 12:00</text>
<text x="899" y="670" style="letter-spacing:0.3px">27 Mar 20:00</text>
<text x="963" y="670" style="letter-spacing:0.3px">29 Mar 04:00</text>
<text x="1027" y="670" style="letter-spacing:0.3px">30 Mar 12:00</text>
<text x="1091" y="670" style="letter-spacing:0.3px">2 Apr 23:00</text>
<text x="1155" y="670" style="letter-spacing:0.3px">4 Apr 04:00</text>
<text x="1219" y="670" style="letter-spacing:0.3px">5 Apr 12:00</text>
<text x="1283" y="670" style="letter-spacing:0.3px">6 Apr 20:00</text>
<text x="9" y="16" style="letter-spacing:0.75px">XAUUSD-,H4</text>
<text x="72" y="16">2006.84</text>
<text x="108" y="16">2008.04</text>
<text x="144" y="16">2005.64</text>
<text x="180" y="16">2006.70</text>
<text x="8.5" y="510" style="letter-spacing:1.3px">MACD</text>
<text x="37.5" y="510" style="letter-spacing:0.12px">(12,26,9)</text>
<text x="77.8" y="510" style="letter-spacing:0.4px">8.341</text>
<text x="104" y="510" style="letter-spacing:0.3px">12.049</text>
</g>
</svg>
</body></html>
